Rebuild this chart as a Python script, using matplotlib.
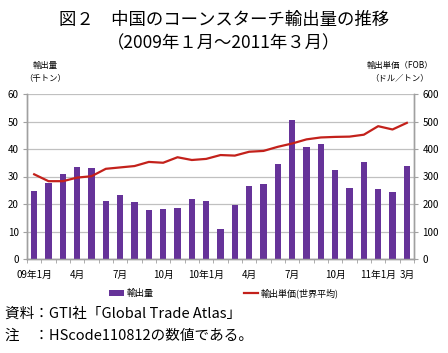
import numpy as np
import matplotlib.pyplot as plt

plt.rcParams['font.family'] = ['Noto Sans CJK JP', 'DejaVu Sans']

# monthly data, 2009-01 .. 2011-03
volume = [24.7, 27.7, 30.9, 33.3, 33.0, 21.0, 23.4, 20.8, 17.9, 18.1, 18.6, 21.7,
          21.0, 10.8, 19.8, 26.7, 27.3, 34.7, 50.4, 40.6, 42.0, 32.3, 25.8, 35.4,
          25.6, 24.4, 34.0]
unit_price = [308, 283, 283, 296, 301, 328, 333, 338, 353, 350, 370, 360,
              364, 378, 376, 390, 393, 408, 420, 435, 442, 444, 445, 452,
              483, 471, 495]
tick_pos = [0, 3, 6, 9, 12, 15, 18, 21, 24, 26]
tick_labels = ['09年1月', '4月', '7月', '10月', '10年1月', '4月', '7月', '10月',
               '11年1月', '3月']

bar_color = '#663399'
line_color = '#c3211b'
axis_gray = '#a0a0a0'

fig = plt.figure(figsize=(4.48, 3.53), dpi=100)
ax = fig.add_axes([27 / 448, 1 - 259 / 353, 387 / 448, 165 / 353])
ax2 = ax.twinx()

x = np.arange(len(volume))
ax.bar(x, volume, width=0.42, color=bar_color, zorder=3, label='輸出量')
ax2.plot(x, unit_price, color=line_color, lw=1.6, label='輸出単価(世界平均)')

ax.set_xlim(-0.5, len(volume) - 0.5)
ax.set_ylim(0, 60)
ax.set_yticks(range(0, 61, 10))
ax2.set_ylim(0, 600)
ax2.set_yticks(range(0, 601, 100))
ax.grid(axis='y', color='#c0c0c0', lw=0.9, zorder=0)
ax.set_axisbelow(True)

ax.set_xticks(tick_pos)
ax.set_xticklabels(tick_labels, fontsize=7)
ax.tick_params(axis='x', length=0, pad=8)
ax.set_xticks(np.arange(-0.5, len(volume), 1), minor=True)
ax.tick_params(axis='x', which='minor', length=3, color=axis_gray)
ax.tick_params(axis='y', labelsize=7, length=3, color=axis_gray, pad=3)
ax2.tick_params(axis='y', labelsize=7, length=3, color=axis_gray, pad=3)

for a in (ax, ax2):
    a.spines['top'].set_visible(False)
    for s in ('left', 'right', 'bottom'):
        a.spines[s].set_color(axis_gray)
        a.spines[s].set_linewidth(1.0)

fig.text(0.5, 1 - 20 / 353, '図２　中国のコーンスターチ輸出量の推移', ha='center',
         va='center', fontsize=12.5)
fig.text(0.5, 1 - 43 / 353, '（2009年１月～2011年３月）', ha='center', va='center',
         fontsize=12.5)
fig.text(45 / 448, 1 - 65 / 353, '輸出量', ha='center', va='center', fontsize=6)
fig.text(45 / 448, 1 - 78 / 353, '（千トン）', ha='center', va='center', fontsize=6)
fig.text(400 / 448, 1 - 65 / 353, '輸出単価（FOB）', ha='center', va='center', fontsize=6)
fig.text(400 / 448, 1 - 78 / 353, '（ドル／トン）', ha='center', va='center', fontsize=6)

h1, l1 = ax.get_legend_handles_labels()
h2, l2 = ax2.get_legend_handles_labels()
fig.legend(h1 + h2, l1 + l2, loc='center', bbox_to_anchor=(0.5, 1 - 293 / 353),
           ncol=2, frameon=False, fontsize=6.5, handlelength=1.6,
           handletextpad=0.3, columnspacing=10)

fig.text(5 / 448, 1 - 314 / 353, '資料：GTI社「Global Trade Atlas」', ha='left',
         va='center', fontsize=10.5)
fig.text(5 / 448, 1 - 336 / 353, '注　：HScode110812の数値である。', ha='left',
         va='center', fontsize=10.5)

fig.savefig('out.png', dpi=100)
